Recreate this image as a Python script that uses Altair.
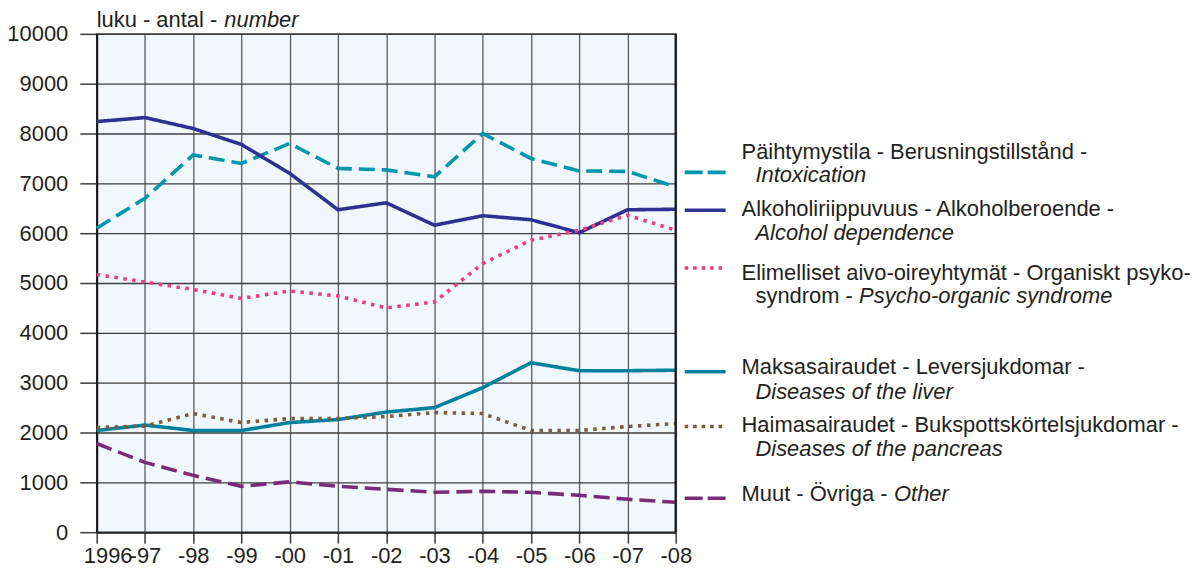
import altair as alt
import pandas as pd

years = ["1996", "-97", "-98", "-99", "-00", "-01", "-02", "-03", "-04", "-05", "-06", "-07", "-08"]

intoxication = [6100, 6700, 7570, 7400, 7800, 7300, 7270, 7130, 8000, 7500, 7250, 7240, 6930]
alcohol_dep = [8240, 8320, 8100, 7780, 7200, 6470, 6610, 6160, 6350, 6270, 6010, 6470, 6480]
psycho_org = [5170, 5020, 4870, 4690, 4840, 4740, 4500, 4620, 5390, 5860, 6060, 6360, 6060]
liver = [2040, 2150, 2040, 2040, 2200, 2260, 2410, 2500, 2900, 3400, 3240, 3240, 3250]
pancreas = [2100, 2130, 2380, 2200, 2280, 2280, 2320, 2400, 2380, 2040, 2040, 2120, 2180]
other = [1780, 1400, 1140, 920, 1010, 920, 860, 800, 820, 800, 740, 660, 600]

series_keys = ["Intoxication", "Alcohol dependence", "Psycho-organic syndrome",
               "Diseases of the liver", "Diseases of the pancreas", "Other"]
series_vals = [intoxication, alcohol_dep, psycho_org, liver, pancreas, other]

legend_line1 = [
    [("Päihtymystila - Berusningstillstånd -", "normal")],
    [("Alkoholiriippuvuus - Alkoholberoende -", "normal")],
    [("Elimelliset aivo-oireyhtymät - Organiskt psyko-", "normal")],
    [("Maksasairaudet - Leversjukdomar -", "normal")],
    [("Haimasairaudet - Bukspottskörtelsjukdomar -", "normal")],
    [("Muut - Övriga - ", "normal"), ("Other", "italic")],
]
legend_line2 = [
    [("Intoxication", "italic")],
    [("Alcohol dependence", "italic")],
    [("syndrom - ", "normal"), ("Psycho-organic syndrome", "italic")],
    [("Diseases of the liver", "italic")],
    [("Diseases of the pancreas", "italic")],
    [],
]

rows = []
for key, vals in zip(series_keys, series_vals):
    for yr, v in zip(years, vals):
        rows.append({"year": yr, "series": key, "value": v})
df = pd.DataFrame(rows)

# styling
colors = ["#0096ae", "#2e3192", "#ef3a7b", "#00809f", "#7b5b3a", "#7b2a7b"]
dashes = [[16, 7], [1, 0], [3.5, 5.5], [1, 0], [3.5, 5.5], [16, 7]]
legend_dashes = [[18, 5], [1, 0], [3.5, 5], [1, 0], [3.5, 5], [18, 5]]
sample_y = [139, 177, 235, 339, 394, 466]
line1_y = [119, 176, 240, 334, 392, 462]
line2_y = [142, 200, 263, 359, 417, None]
line1_x = [[647], [647], [647], [647], [647], [647, 800]]
line2_x = [[661], [661], [661, 765], [661], [661], []]
FONT = "Liberation Sans"
TXT = "#231f20"
GRID = "#3c3c3c"

lines = alt.Chart(df).mark_line(strokeWidth=3.6).encode(
    x=alt.X("year:O", sort=years, scale=alt.Scale(type="point", padding=0),
            axis=alt.Axis(title=None, labelAngle=0, grid=True, gridColor="#5a5a5a", gridWidth=1.3,
                          tickSize=11, tickColor=GRID, tickWidth=1.5, domainColor="#222", domainWidth=2,
                          labelFontSize=22, labelFont=FONT, labelColor=TXT, labelPadding=2,
                          labelOffset={"condition": {"test": "datum.index === 0", "value": 11}, "value": 0})),
    y=alt.Y("value:Q", scale=alt.Scale(domain=[0, 10000], nice=False),
            axis=alt.Axis(title=None, values=list(range(0, 10001, 1000)), format="d", grid=True,
                          gridColor=GRID, gridWidth=1.3, tickSize=17, tickColor=GRID, tickWidth=1.5,
                          domainColor="#111", domainWidth=2, labelFontSize=22, labelFont=FONT,
                          labelColor=TXT, labelPadding=12)),
    color=alt.Color("series:N", scale=alt.Scale(domain=series_keys, range=colors), legend=None),
    strokeDash=alt.StrokeDash("series:N", scale=alt.Scale(domain=series_keys, range=dashes), legend=None),
)

one = pd.DataFrame({"a": [0]})
layers = [lines]

# right border
layers.append(alt.Chart(one).mark_rule(color="#222", strokeWidth=2.5).encode(
    x=alt.value(581), y=alt.value(0), y2=alt.value(500)))

# y title
layers.append(alt.Chart(one).mark_text(align="left", baseline="middle", fontSize=22, font=FONT, color=TXT).encode(
    x=alt.value(0), y=alt.value(-14), text=alt.value("luku - antal - ")))
layers.append(alt.Chart(one).mark_text(align="left", baseline="middle", fontSize=22, font=FONT, color=TXT,
                                       fontStyle="italic").encode(
    x=alt.value(128), y=alt.value(-14), text=alt.value("number")))

for i in range(len(series_keys)):
    layers.append(alt.Chart(one).mark_rule(color=colors[i], strokeWidth=3.6, strokeDash=legend_dashes[i]).encode(
        x=alt.value(590), x2=alt.value(631), y=alt.value(sample_y[i])))
    for (txt, style), px in zip(legend_line1[i], line1_x[i]):
        layers.append(alt.Chart(one).mark_text(align="left", baseline="middle", fontSize=22, font=FONT,
                                               color=TXT, fontStyle=style).encode(
            x=alt.value(px), y=alt.value(line1_y[i]), text=alt.value(txt)))
    for (txt, style), px in zip(legend_line2[i], line2_x[i]):
        layers.append(alt.Chart(one).mark_text(align="left", baseline="middle", fontSize=22, font=FONT,
                                               color=TXT, fontStyle=style).encode(
            x=alt.value(px), y=alt.value(line2_y[i]), text=alt.value(txt)))

chart = alt.layer(*layers).properties(
    width=581, height=500,
    autosize=alt.AutoSizeParams(type="none"),
    padding={"left": 89, "top": 25, "right": 517, "bottom": 36},
).configure_view(fill="#f0f8fe", stroke="#777777", strokeWidth=1.5)

chart.save("out.html", embed_options={"renderer": "svg", "actions": False})
